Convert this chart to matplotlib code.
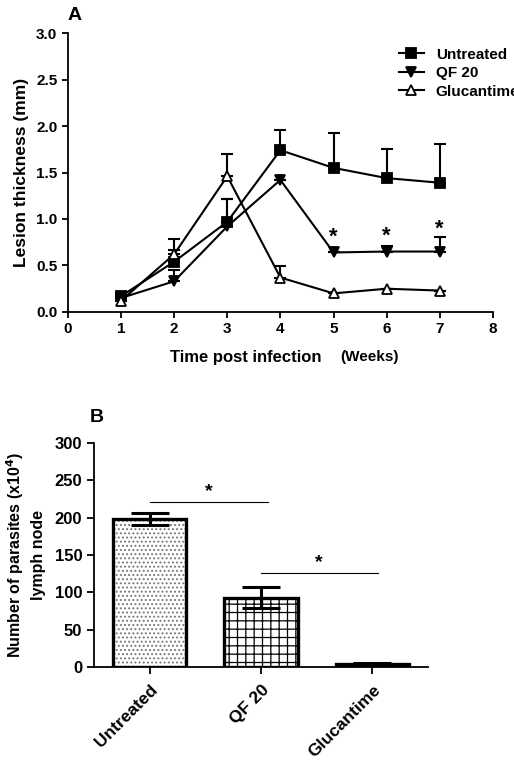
import matplotlib.pyplot as plt
import numpy as np

plt.rcParams['font.family'] = ['Liberation Sans', 'DejaVu Sans']
plt.rcParams['font.weight'] = 'bold'
plt.rcParams['hatch.linewidth'] = 0.9

# panel A data
weeks = [1, 2, 3, 4, 5, 6, 7]
untreated = [0.17, 0.54, 0.97, 1.74, 1.55, 1.44, 1.39]
untreated_err = [0.02, 0.13, 0.25, 0.22, 0.37, 0.31, 0.42]
qf20 = [0.15, 0.33, 0.92, 1.42, 0.64, 0.65, 0.65]
qf20_err = [0.02, 0.12, 0.29, 0.0, 0.0, 0.06, 0.16]
gluc = [0.12, 0.62, 1.46, 0.37, 0.20, 0.25, 0.23]
gluc_err = [0.03, 0.17, 0.24, 0.12, 0.0, 0.0, 0.0]
star_weeks = [5, 6, 7]
star_y = [0.80, 0.82, 0.89]

# panel B data
groups = ['Untreated', 'QF 20', 'Glucantime']
counts = [198, 93, 4]
counts_err = [8, 14, 1]
hatches = ['....', '++', '////']
hatch_cols = ['#777777', 'black', '#555555']

fig = plt.figure(figsize=(5.14, 7.62), dpi=100)

# ---- A ----
ax = fig.add_axes([0.132, 0.5906, 0.827, 0.366])
lw = 1.5
series = [(untreated, untreated_err, 's', 'black', 'Untreated'),
          (qf20, qf20_err, 'v', 'black', 'QF 20'),
          (gluc, gluc_err, '^', 'white', 'Glucantime')]
for vals, err, mk, fc, name in series:
    ax.errorbar(weeks, vals, yerr=[np.zeros(7), err], fmt='none', ecolor='black',
                elinewidth=lw, capsize=4, capthick=lw)
    ax.plot(weeks, vals, color='black', lw=lw, marker=mk, ms=7.5, mfc=fc,
            mec='black', mew=1.3, label=name)
for w, s in zip(star_weeks, star_y):
    ax.text(w, s, '*', ha='center', va='center', fontsize=16, fontweight='bold')
ax.set_xlim(0, 8)
ax.set_ylim(0, 3.0)
ax.set_xticks(range(0, 9))
ax.set_yticks(np.arange(0, 3.01, 0.5))
ax.set_yticklabels(['%.1f' % v for v in np.arange(0, 3.01, 0.5)])
for sp in ['top', 'right']:
    ax.spines[sp].set_visible(False)
for sp in ['left', 'bottom']:
    ax.spines[sp].set_linewidth(1.3)
ax.tick_params(direction='out', width=1.3, length=4, labelsize=11)
ax.set_ylabel('Lesion thickness (mm)', fontsize=12.5, fontweight='bold', labelpad=5)
ax.text(0.418, -0.135, 'Time post infection', transform=ax.transAxes, ha='center',
        va='top', fontsize=12, fontweight='bold')
ax.text(0.71, -0.138, '(Weeks)', transform=ax.transAxes, ha='center',
        va='top', fontsize=11, fontweight='bold')
leg = ax.legend(loc='upper left', bbox_to_anchor=(0.765, 0.97), frameon=False,
                fontsize=11, handlelength=1.6, handletextpad=0.8,
                labelspacing=0.3, borderaxespad=0)
fig.text(0.132, 0.98, 'A', fontsize=14, fontweight='bold', va='center')

# ---- B ----
bx = fig.add_axes([0.183, 0.1247, 0.65, 0.294])
x = np.arange(len(groups))
for i in range(len(groups)):
    bx.bar(x[i], counts[i], width=0.66, color='white', edgecolor=hatch_cols[i], lw=0,
           hatch=hatches[i], zorder=2)
    bx.bar(x[i], counts[i], width=0.66, color='none', edgecolor='black', lw=2.4,
           zorder=2)
bx.errorbar(x, counts, yerr=counts_err, fmt='none', ecolor='black', elinewidth=2.2,
            capsize=14, capthick=2.2, zorder=3)
bx.plot([0, 1.06], [221, 221], color='black', lw=0.8)
bx.text(0.53, 224, '*', ha='center', va='bottom', fontsize=14, fontweight='bold')
bx.plot([1.0, 2.05], [126, 126], color='black', lw=0.8)
bx.text(1.52, 129, '*', ha='center', va='bottom', fontsize=14, fontweight='bold')
bx.set_xlim(-0.5, 2.5)
bx.set_ylim(0, 300)
bx.set_yticks(range(0, 301, 50))
bx.set_xticks(x)
bx.set_xticklabels(groups, rotation=45, ha='right', rotation_mode='anchor')
for sp in ['top', 'right']:
    bx.spines[sp].set_visible(False)
for sp in ['left', 'bottom']:
    bx.spines[sp].set_linewidth(1.3)
bx.tick_params(direction='out', width=1.3, length=5, labelsize=12)
bx.tick_params(axis='x', labelsize=12.5, pad=6)
bx.set_ylabel('Number of parasites (x10$^4$)\nlymph node', fontsize=11.5,
              fontweight='bold', labelpad=6, linespacing=1.4)
fig.text(0.175, 0.452, 'B', fontsize=14, fontweight='bold', va='center')

fig.savefig('out.png', dpi=100)
